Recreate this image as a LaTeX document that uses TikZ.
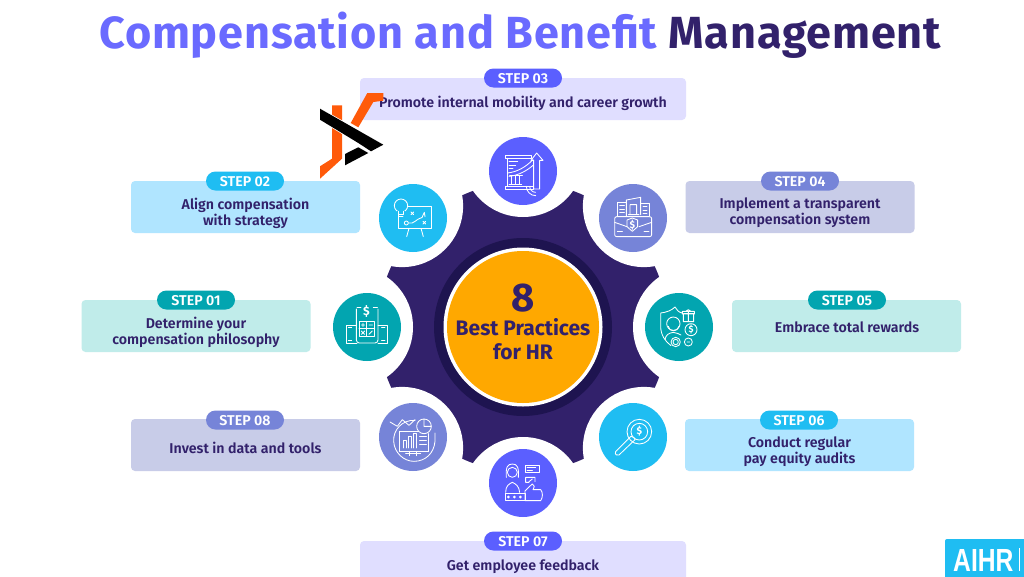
\documentclass[tikz,border=0pt]{standalone}
\usepackage{graphicx}
\usepackage{fontspec}
\setmainfont{Fira Sans}
\newfontfamily\medfont{Fira Sans SemiBold}
\definecolor{gearc}{HTML}{32216B}
\definecolor{navyc}{HTML}{1E1450}
\definecolor{orangec}{HTML}{FFA800}
\definecolor{violetc}{HTML}{5B5FFF}
\definecolor{skyc}{HTML}{1FBDF2}
\definecolor{periwc}{HTML}{7684D8}
\definecolor{tealc}{HTML}{02A5B0}
\definecolor{lviolet}{HTML}{E0DEFF}
\definecolor{lsky}{HTML}{B0E5FF}
\definecolor{lperi}{HTML}{C8CCE8}
\definecolor{lteal}{HTML}{C0ECEA}
\definecolor{titlec}{HTML}{6A6AFF}
\definecolor{logoo}{HTML}{FF5A0A}
\tikzset{
  panel/.style={rounded corners=4pt,minimum height=52pt,minimum width=229pt,inner sep=0pt},
  pill/.style={rounded corners=9.5pt,minimum width=78pt,minimum height=19pt,inner sep=0pt,text=white},
  pilltext/.style={text=white,inner sep=0pt,font=\fontsize{14.2}{15}\medfont},
  lab/.style={text=gearc,align=center,inner sep=0pt,font=\fontsize{14.2}{16}\medfont},
  disc/.style={circle,minimum size=68pt,inner sep=0pt},
  ic/.style={draw=white,line width=0.85pt,line join=round,line cap=round},
  iconat/.style={shift={#1},x=0.3333pt,y=-0.3333pt},
}
\begin{document}
\begin{tikzpicture}[x=1pt,y=-1pt]
\useasboundingbox (0,0) rectangle (1024,576);
\clip (0,0) rectangle (1024,576);
\fill[white] (0,0) rectangle (1024,576);
% gear
\fill[gearc] (523,327) circle[radius=145];
\foreach \a in {0,45,...,315}{\fill[white] (523,327)++(\a:171) circle[radius=61];}
\node[circle,fill=navyc,minimum size=178pt,inner sep=0pt] (ring) at (523,327) {};
\node[circle,fill=white,minimum size=159pt,inner sep=0pt] (ringw) at (523,327) {};
\node[circle,fill=orangec,minimum size=152pt,inner sep=0pt] (hub) at (523,327) {};
\node[text=gearc,inner sep=0pt,font=\fontsize{40}{40}\bfseries\selectfont] (eight) at (523,298) {8};
\node[text=gearc,inner sep=0pt,align=center,font=\fontsize{21}{24}\selectfont\bfseries] (bp) at (523,339.5) {Best Practices\\for HR};
% title
\node[anchor=base west,inner sep=0pt,font=\fontsize{45}{45}\selectfont\bfseries\addfontfeature{LetterSpace=1.8}] (title) at (99,48) {\textcolor{titlec}{Compensation and Benefit} \textcolor{gearc}{Management}};
% panels
\node[panel,fill=lviolet,minimum width=326pt,minimum height=42pt] (b3) at (523,99) {};
\node[panel,fill=lsky] (b2) at (245.5,207) {};
\node[panel,fill=lperi] (b4) at (800,207) {};
\node[panel,fill=lteal] (b1) at (196,326) {};
\node[panel,fill=lteal] (b5) at (846.5,326) {};
\node[panel,fill=lperi] (b8) at (245.5,445) {};
\node[panel,fill=lsky] (b6) at (799.5,445) {};
\node[panel,fill=lviolet,minimum width=326pt,minimum height=60pt] (b7) at (523,571) {};
\node[pill,fill=violetc] (p3) at (523,78) {};
\node[pill,fill=skyc] (p2) at (245,181) {};
\node[pill,fill=periwc] (p4) at (800,181) {};
\node[pill,fill=tealc] (p1) at (196,300) {};
\node[pill,fill=tealc] (p5) at (847,300) {};
\node[pill,fill=periwc] (p8) at (245,420) {};
\node[pill,fill=skyc] (p6) at (799,420) {};
\node[pill,fill=violetc] (p7) at (523,541) {};
\node[pilltext] (q3) at (523,79) {STEP 03};
\node[pilltext] (q2) at (245,182) {STEP 02};
\node[pilltext] (q4) at (800,182) {STEP 04};
\node[pilltext] (q1) at (196,301) {STEP 01};
\node[pilltext] (q5) at (847,301) {STEP 05};
\node[pilltext] (q8) at (245,421) {STEP 08};
\node[pilltext] (q6) at (799,421) {STEP 06};
\node[pilltext] (q7) at (523,542) {STEP 07};
\node[lab] (t3) at (523,103) {Promote internal mobility and career growth};
\node[lab] (t2) at (245.5,213) {Align compensation\\with strategy};
\node[lab] (t4) at (800,213) {Implement a transparent\\compensation system};
\node[lab] (t1) at (196,332) {Determine your\\compensation philosophy};
\node[lab] (t5) at (847,327.5) {Embrace total rewards};
\node[lab] (t8) at (245.5,448) {Invest in data and tools};
\node[lab] (t6) at (799.5,451.5) {Conduct regular\\pay equity audits};
\node[lab] (t7) at (523,566.5) {Get employee feedback};
% icon discs
\node[disc,fill=violetc] (d3) at (523,171) {};
\node[disc,fill=skyc] (d2) at (413,218) {};
\node[disc,fill=periwc] (d4) at (633,218) {};
\node[disc,fill=tealc] (d1) at (367,327) {};
\node[disc,fill=tealc] (d5) at (679,327) {};
\node[disc,fill=periwc] (d8) at (413,437) {};
\node[disc,fill=skyc] (d6) at (633,437) {};
\node[disc,fill=violetc] (d7) at (523,483) {};
% icon 3: chart board
\begin{scope}[iconat={(489,137)},ic]
\draw (50,55) rectangle (126,64);
\draw (55,64) -- (55,148) (48,148) rectangle (132,156);
\draw (55,108) .. controls (85,105) and (110,90) .. (132,68);
\draw (60,118) .. controls (90,115) and (115,100) .. (132,85);
\draw (60,74) -- (86,74) (60,84) -- (80,84) (60,94) -- (72,94);
\draw (62,116) -- (100,116) (66,118) -- (66,142) (78,118) -- (78,142) (90,118) -- (90,142) (60,142) -- (98,142);
\draw (112,148) arc[start angle=180,end angle=90,radius=28];
\draw (122,148) arc[start angle=180,end angle=90,radius=18];
\draw (134,156) -- (134,70) -- (126,70) -- (143,48) -- (162,70) -- (152,70) -- (152,156) -- cycle;
\end{scope}
% icon 4: briefcase
\begin{scope}[iconat={(599,184)},ic]
\draw[rounded corners=2pt] (47,98) rectangle (158,158);
\draw (47,115) -- (84,128) (120,128) -- (158,115);
\draw (100,102) -- (116,108) -- (116,128) -- (100,142) -- (84,128) -- (84,108) -- cycle;
\node[text=white,inner sep=0pt,font=\fontsize{10}{10}\bfseries\selectfont] (i4d) at (100,122) {\$};
\draw (55,96) -- (55,55) -- (82,55) (62,65) -- (76,65) (62,75) -- (76,75) (62,85) -- (76,85);
\draw (82,96) -- (82,48) -- (125,40) -- (125,92) (93,92) -- (93,62) -- (113,62) -- (113,92) (88,92) -- (120,92);
\draw (125,58) -- (150,58) -- (150,96) (132,68) -- (144,68) (132,78) -- (144,78) (132,88) -- (144,88);
\draw (55,143) -- (70,143) (135,143) -- (150,143);
\end{scope}
% icon 5: shield
\begin{scope}[iconat={(645,293)},ic]
\draw (112,60) .. controls (100,58) and (95,50) .. (90,42) .. controls (80,52) and (65,58) .. (47,60) -- (47,100) .. controls (47,125) and (60,145) .. (78,158);
\draw (85,92) circle[radius=20];
\draw (70,100) .. controls (72,118) and (98,118) .. (102,100);
\draw (60,140) .. controls (62,125) and (72,120) .. (85,118) .. controls (95,120) and (102,122) .. (108,126);
\draw (92,147) circle[radius=8] (92,147) circle[radius=14];
\draw (115,62) rectangle (146,86) (112,55) rectangle (148,63) (130,55) -- (130,86) (122,55) -- (130,50) -- (138,55);
\draw (138,110) circle[radius=18];
\node[text=white,inner sep=0pt,font=\fontsize{9}{9}\bfseries\selectfont] (i5d) at (138,110) {\$};
\draw (130,147) circle[radius=12] (126,147) -- (134,147);
\end{scope}
% icon 6: magnifier
\begin{scope}[iconat={(599,403)},ic]
\draw (121,86) circle[radius=37] (121,86) circle[radius=25];
\node[text=white,inner sep=0pt,font=\fontsize{10}{10}\bfseries\selectfont] (i6d) at (121,84) {\$};
\draw (105,104) -- (96,100) -- (50,146) .. controls (46,154) and (54,160) .. (60,156) -- (108,110) -- cycle;
\end{scope}
% icon 7: feedback
\begin{scope}[iconat={(489,449)},ic]
\draw (70,70) circle[radius=15];
\draw (52,85) .. controls (50,55) and (55,45) .. (70,45) .. controls (85,45) and (90,55) .. (88,85);
\draw (50,130) .. controls (50,110) and (60,105) .. (70,100) .. controls (80,105) and (90,110) .. (92,130);
\draw (48,132) rectangle (108,155);
\foreach \sx in {58,76,94}{\fill[white,draw=none] (\sx,144) circle[radius=4.5];}
\draw (108,152) -- (108,126) -- (122,112) -- (130,105) -- (136,112) -- (132,122) -- (155,122) .. controls (162,130) and (162,145) .. (155,155) -- (108,155);
\draw (108,48) rectangle (150,70);
\draw (114,56) -- (140,56) (114,63) -- (130,63);
\draw (110,85) -- (138,85) -- (138,98) (110,85) -- (110,100) -- (120,100) (120,98) -- (130,90);
\end{scope}
% icon 8: data
\begin{scope}[iconat={(379,403)},ic]
\draw (108,52) .. controls (70,50) and (42,80) .. (44,115) .. controls (46,150) and (75,175) .. (105,175) .. controls (140,175) and (165,150) .. (168,115) -- (168,90);
\draw (62,85) -- (118,85) (62,85) -- (62,145) (62,145) -- (148,145);
\draw (148,92) -- (148,145) (80,150) -- (125,150) (92,145) -- (92,158) (112,145) -- (112,158);
\draw (72,135) -- (72,112) -- (82,112) -- (82,135) (88,135) -- (88,100) -- (98,100) -- (98,135) (104,135) -- (104,90) -- (112,90) -- (112,135);
\draw (122,100) -- (142,100) (122,112) -- (142,112) (122,124) -- (142,124);
\draw (135,70) circle[radius=22] (135,70) -- (135,48) (135,70) -- (157,70);
\draw (33,57) -- (55,70) -- (70,50) -- (90,67) -- (108,50);
\end{scope}
% icon 1: calculator
\begin{scope}[iconat={(333,293)},ic]
\draw[rounded corners=3pt] (70,48) -- (70,150) -- (135,150) -- (135,48);
\draw (72,42) -- (84,42) (121,42) -- (133,42);
\node[text=white,inner sep=0pt,font=\fontsize{12}{12}\bfseries\selectfont] (i1d) at (100,55) {\$};
\draw (78,85) rectangle (125,130) (101.5,85) -- (101.5,130) (78,107) -- (125,107);
\draw (85,96) -- (95,96) (90,91) -- (90,101) (108,96) -- (118,96) (85,114) -- (95,124) (95,114) -- (85,124) (108,124) -- (118,114);
\draw (70,96) -- (40,96) -- (40,150) -- (72,150) (135,96) -- (162,96) -- (162,150) -- (135,150);
\draw (46,104) -- (56,104) (46,142) -- (56,142) (146,104) -- (156,104) (146,142) -- (156,142);
\end{scope}
% icon 2: strategy board
\begin{scope}[iconat={(379,184)},ic]
\draw (58,68) -- (58,133) -- (156,133) -- (156,68) -- (86,68);
\fill[skyc,draw=none] (45,45) rectangle (87,90);
\draw (66,65) circle[radius=20];
\fill[skyc,draw=none] (54,82) rectangle (78,90);
\draw (58,82) -- (58,90) -- (74,90) -- (74,82) (60,96) -- (72,96);
\draw (83,158) -- (90,133) (133,158) -- (126,133);
\draw (82,117) circle[radius=6];
\draw (88,117) .. controls (105,122) and (110,105) .. (130,100);
\draw (96,84) -- (104,92) (104,84) -- (96,92) (132,112) -- (140,120) (140,112) -- (132,120);
\draw (130,98) -- (136,85) -- (138,98);
\end{scope}
% AIHR
\fill[skyc,rounded corners=2pt] (945,539) rectangle (1030,580);
\node[anchor=base west,inner sep=0pt,text=white,font=\fontsize{32}{32}\fontspec{Liberation Sans}\bfseries\selectfont] (aihr) at (953,571) {\scalebox{0.77}[1]{AIHR}};
\fill[white] (1018.7,548) rectangle (1019.7,571);
% logo
\fill[logoo] (367.3,93) -- (383.3,93) -- (383.3,100.7) -- (373.3,102) -- (358.3,127.3) -- (350.7,123) -- cycle;
\fill[logoo] (332,105.3) -- (342,105.3) -- (342,158.7) -- (320,178.7) -- (320,166.3) -- (332,158.7) -- cycle;
\draw[white,line width=1.5pt,fill=black,line join=round] (320,108.7) -- (383.3,144.7) -- (371,151.3) -- (358.3,143) -- (320,119.7) -- cycle;
\fill[black] (320,108.7) -- (383.3,144.7) -- (371,151.3) -- (358.3,143) -- (320,119.7) -- cycle;
\fill[black] (345,154) -- (358.3,147.3) -- (368.3,153) -- (345,165.3) -- cycle;
\end{tikzpicture}
\end{document}
